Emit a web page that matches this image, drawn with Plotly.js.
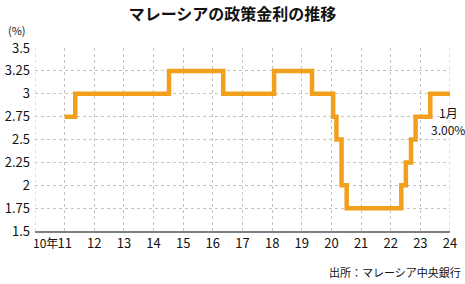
<!DOCTYPE html>
<html><head><meta charset="utf-8">
<script src="https://cdn.plot.ly/plotly-3.0.1.min.js"></script>
<style>html,body{margin:0;padding:0;background:#fff}#c{width:465px;height:284px}</style>
</head><body><div id="c"></div>
<script>
const dates = ['2011-01-01','2011-05-12','2014-07-10','2016-05-08','2018-01-25','2019-05-07','2020-01-22','2020-03-03','2020-05-05','2020-07-07','2022-05-11','2022-07-06','2022-09-08','2022-11-03','2023-05-03','2024-01-01'];
const rates = [2.75,3.00,3.25,3.00,3.25,3.00,2.75,2.50,2.00,1.75,2.00,2.25,2.50,2.75,3.00,3.00];
const xTickVals = ['2010-01-01','2011-01-01','2012-01-01','2013-01-01','2014-01-01','2015-01-01','2016-01-01','2017-01-01','2018-01-01','2019-01-01','2020-01-01','2021-01-01','2022-01-01','2023-01-01','2024-01-01'];
const xTickText = ['','11','12','13','14','15','16','17','18','19','20','21','22','23','24'];
const firstYearLabel = '10年';
const yTickVals = [1.5,1.75,2,2.25,2.5,2.75,3,3.25,3.5];
const yTickText = ['1.5','1.75','2','2.25','2.5','2.75','3','3.25','3.5'];

const F = 'Noto Sans CJK JP, sans-serif';
Plotly.newPlot('c', [{
  x: dates, y: rates, type: 'scatter', mode: 'lines',
  line: {shape: 'hv', color: '#F29F1C', width: 4.5},
  hoverinfo: 'none'
}], {
  width: 465, height: 284,
  margin: {l: 35, r: 15, t: 48, b: 53},
  paper_bgcolor: '#fff', plot_bgcolor: '#fff',
  showlegend: false,
  title: {text: '<b>マレーシアの政策金利の推移</b>', x: 0.5, xanchor: 'center', y: 0.95, yanchor: 'middle', font: {family: F, size: 16, color: '#111'}},
  xaxis: {
    type: 'date', range: ['2010-01-01','2024-01-01'],
    tickvals: xTickVals, ticktext: xTickText,
    showgrid: true, gridcolor: '#c4c4c4', griddash: 'dot', gridwidth: 1,
    showline: true, linecolor: '#808080', linewidth: 1.5,
    ticks: '', tickfont: {family: F, size: 13, color: '#111'},
    zeroline: false
  },
  yaxis: {
    range: [1.5, 3.5], tickvals: yTickVals, ticktext: yTickText,
    showgrid: true, gridcolor: '#c4c4c4', griddash: 'dot', gridwidth: 1,
    showline: false, ticks: '', ticklabelstandoff: 4,
    tickfont: {family: F, size: 13, color: '#111'},
    zeroline: false
  },
  shapes: [
    {type: 'line', xref: 'x', yref: 'paper', x0: '2010-01-01', x1: '2010-01-01', y0: 0, y1: 1, line: {color: '#c4c4c4', width: 1, dash: 'dot'}},
    {type: 'line', xref: 'x', yref: 'paper', x0: '2024-01-01', x1: '2024-01-01', y0: 0, y1: 1, line: {color: '#c4c4c4', width: 1, dash: 'dot'}}
  ],
  annotations: [
    {text: firstYearLabel, xref: 'x', yref: 'paper', x: '2010-01-01', y: 0, xanchor: 'left', yanchor: 'top', xshift: -4, yshift: -1, showarrow: false, font: {family: F, size: 12, color: '#111'}},
    {text: '(%)', xref: 'paper', yref: 'paper', x: -0.044, y: 1.045, xanchor: 'center', yanchor: 'bottom', showarrow: false, font: {family: F, size: 11, color: '#111'}},
    {text: '1月', xref: 'paper', yref: 'paper', x: 0.997, y: 0.65, xanchor: 'center', yanchor: 'middle', showarrow: false, font: {family: F, size: 12, color: '#111'}},
    {text: '3.00%', xref: 'paper', yref: 'paper', x: 0.995, y: 0.555, xanchor: 'center', yanchor: 'middle', showarrow: false, font: {family: F, size: 12, color: '#111'}},
    {text: '出所：マレーシア中央銀行', xref: 'paper', yref: 'paper', x: 1.032, y: -0.225, xanchor: 'right', yanchor: 'middle', showarrow: false, font: {family: F, size: 11, color: '#111'}}
  ]
}, {staticPlot: true});
</script></body></html>
